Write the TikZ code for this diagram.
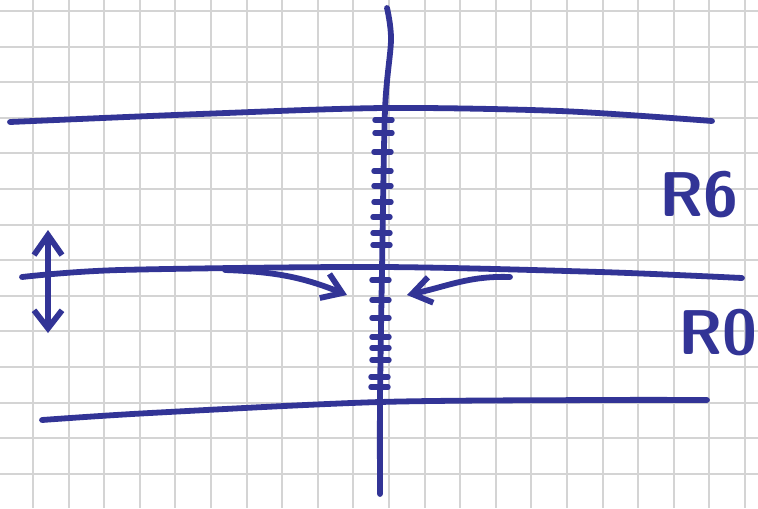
\documentclass[tikz,border=0pt]{standalone}
\usepackage{fontspec}
\usepackage{xcolor}
\definecolor{inkblue}{RGB}{50,52,150}
\definecolor{gridgray}{RGB}{212,212,212}
\usepackage{tikz}
\usetikzlibrary{arrows.meta,positioning}

\begin{document}
\begin{tikzpicture}[x=0.02cm, y=-0.02cm,
    gridline/.style={draw=gridgray, line width=1.1pt},
    ink/.style={draw=inkblue, line width=3.3pt, line cap=round, line join=round},
    tickmark/.style={draw=inkblue, line width=3.1pt, line cap=round},
    sweep/.style={draw=inkblue, line width=3.3pt, line cap=round,
                  -{Straight Barb[length=3.8mm, width=5.2mm, line width=3.3pt]}},
    gap/.style={draw=inkblue, line width=3.3pt, line cap=round,
                {Straight Barb[length=4mm, width=5.6mm, line width=3.3pt]}-{Straight Barb[length=3.6mm, width=5.6mm, line width=3.3pt]}},
    lbl/.style={text=inkblue, font=\sffamily\bfseries\fontsize{36}{36}\selectfont, inner sep=0pt}
  ]
    \useasboundingbox (0,0) rectangle (758,508);
    \fill[white] (0,0) rectangle (758,508);

    % Paper grid
    \foreach \k in {0,...,20}
      \draw[gridline] ({33+35.6*\k},0) -- ({33+35.6*\k},508);
    \foreach \k in {0,...,13}
      \draw[gridline] (0,{11+35.6*\k}) -- (758,{11+35.6*\k});

    % Three horizontal lines
    \draw[ink] plot[smooth] coordinates {(10,122) (200,114) (385,108) (560,111) (712,121)};
    \draw[ink] plot[smooth] coordinates {(22,277) (120,270) (380,267) (600,272) (742,278)};
    \draw[ink] plot[smooth] coordinates {(42,420) (150,413) (380,402) (600,400) (707,400)};

    % Vertical axis
    \draw[ink] plot[smooth] coordinates {(387,8) (391,40) (385,110) (382,270) (380,400) (380,494)};

    % Tick marks on the axis
    \foreach \y/\x in {120/384,133/384,152/383,171/383,186/383,202/383,217/382,
                       233/382,245/382,280/381,300/381,318/381,337/381,348/381,
                       360/381,377/380,387/380}
      \draw[tickmark] ({\x-9},\y) -- ({\x+8},\y);

    % Arrows pointing at the axis
    \coordinate (leftFrom) at (225,270);
    \coordinate (leftTo) at (347,295);
    \coordinate (rightFrom) at (510,277);
    \coordinate (rightTo) at (407,295);
    \draw[sweep] (leftFrom) to[out=-2, in=158] (leftTo);
    \draw[sweep] (rightFrom) to[out=178, in=12] (rightTo);

    % Double arrow on the left
    \coordinate (gapTop) at (48,230);
    \coordinate (gapBottom) at (48,333);
    \draw[gap] (gapTop) -- (gapBottom);

    % Labels
    \node[lbl] (rsix) at (699,195) {R6};
    \node[lbl] (rzero) at (718,333) {R0};
  \end{tikzpicture}
\end{document}
